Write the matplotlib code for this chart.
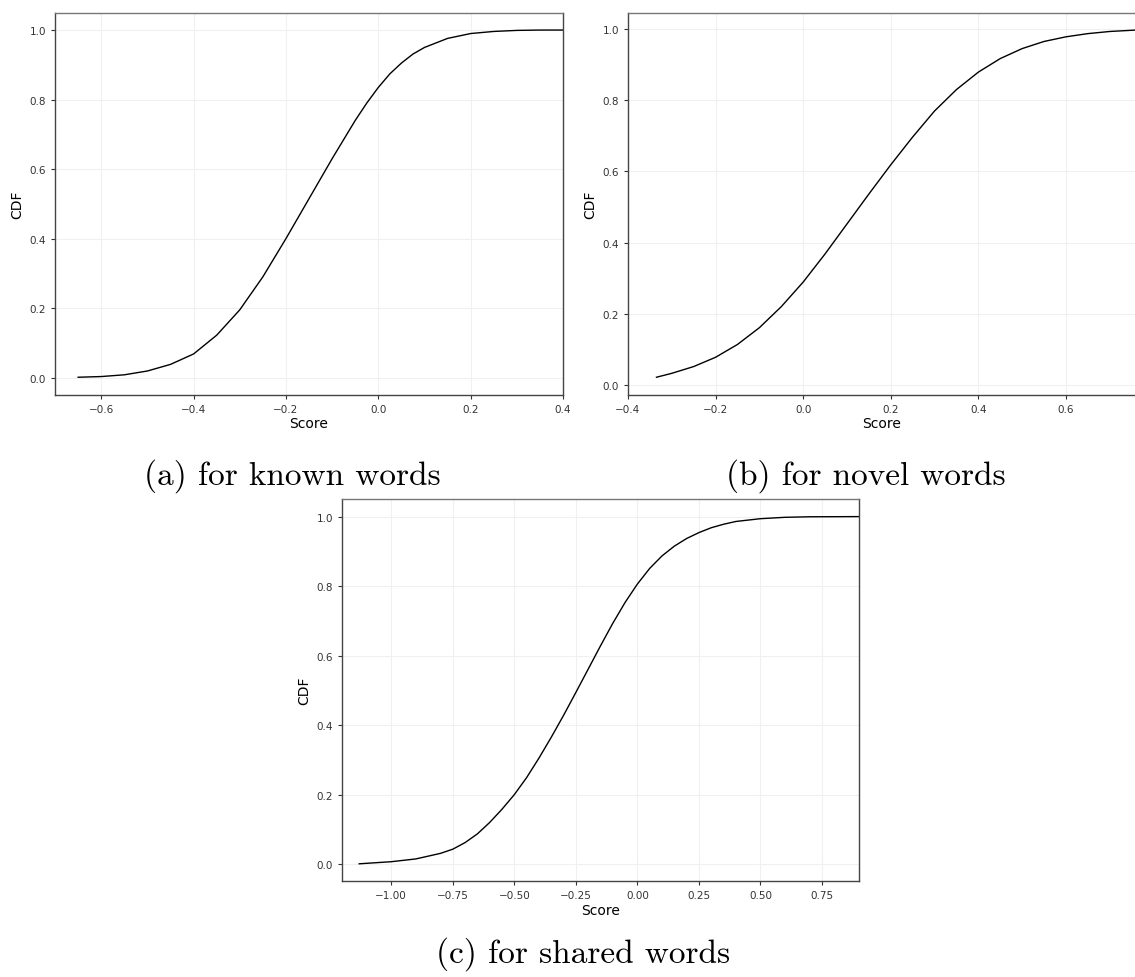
import matplotlib
matplotlib.use("Agg")
import matplotlib.pyplot as plt

# values
known_x = [-0.65, -0.6, -0.55, -0.5, -0.45, -0.4, -0.35, -0.3, -0.25, -0.2, -0.15,
           -0.1, -0.05, -0.025, 0.0, 0.025, 0.05, 0.075, 0.1, 0.15, 0.2, 0.25, 0.3, 0.35, 0.4]
known_cdf = [0.001, 0.003, 0.008, 0.019, 0.038, 0.068, 0.122, 0.195, 0.29, 0.40, 0.515,
             0.63, 0.74, 0.79, 0.835, 0.874, 0.905, 0.931, 0.95, 0.976, 0.99, 0.996, 0.999, 1.0, 1.0]

novel_x = [-0.335, -0.3, -0.25, -0.2, -0.15, -0.1, -0.05, 0.0, 0.05, 0.1, 0.15, 0.2,
           0.25, 0.3, 0.35, 0.4, 0.45, 0.5, 0.55, 0.6, 0.65, 0.7, 0.76]
novel_cdf = [0.022, 0.033, 0.052, 0.078, 0.114, 0.161, 0.22, 0.289, 0.368, 0.452, 0.536,
             0.618, 0.696, 0.769, 0.829, 0.878, 0.916, 0.944, 0.964, 0.977, 0.986, 0.992, 0.996]

shared_x = [-1.13, -1.0, -0.9, -0.8, -0.75, -0.7, -0.65, -0.6, -0.55, -0.5, -0.45,
            -0.4, -0.35, -0.3, -0.25, -0.2, -0.15, -0.1, -0.05, 0.0, 0.05, 0.1,
            0.15, 0.2, 0.25, 0.3, 0.35, 0.4, 0.5, 0.6, 0.7, 0.9]
shared_cdf = [0.001, 0.007, 0.015, 0.031, 0.043, 0.062, 0.087, 0.12, 0.158, 0.2, 0.249,
              0.305, 0.365, 0.428, 0.494, 0.561, 0.628, 0.693, 0.753, 0.806, 0.851, 0.887,
              0.915, 0.937, 0.954, 0.968, 0.978, 0.986, 0.994, 0.998, 0.9995, 1.0]

captions = ["(a) for known words", "(b) for novel words", "(c) for shared words"]

fig = plt.figure(figsize=(11.35, 9.78), dpi=100)

# axes boxes in figure fractions
boxes = [[0.0485, 0.5955, 0.4476, 0.3905],
         [0.5533, 0.5955, 0.4476, 0.3905],
         [0.3013, 0.098, 0.4555, 0.3905]]
xlims = [(-0.7, 0.4), (-0.4, 0.76), (-1.2, 0.9)]
xticks = [[-0.6, -0.4, -0.2, 0.0, 0.2, 0.4],
          [-0.4, -0.2, 0.0, 0.2, 0.4, 0.6],
          [-1.0, -0.75, -0.5, -0.25, 0.0, 0.25, 0.5, 0.75]]
data = [(known_x, known_cdf), (novel_x, novel_cdf), (shared_x, shared_cdf)]

for box, (x, y), xl, xt in zip(boxes, data, xlims, xticks):
    ax = fig.add_axes(box)
    ax.plot(x, y, color="black", lw=1.0)
    ax.set_xlim(*xl)
    ax.set_xticks(xt)
    ax.set_yticks([0.0, 0.2, 0.4, 0.6, 0.8, 1.0])
    if xl[0] == -1.2:
        ax.set_xticklabels([f"{v:.2f}".replace("-", "\u2212") for v in xt])
    ax.grid(True, color="#f0f0f0", lw=0.8)
    ax.set_axisbelow(True)
    ax.tick_params(labelsize=7.5, colors="#333333", length=3, width=0.8)
    for s in ax.spines.values():
        s.set_color("#444444")
        s.set_linewidth(1.0)
    ax.spines["top"].set_color("#777777")
    ax.set_xlabel("Score", fontsize=10, labelpad=2)
    ax.set_ylabel("CDF", fontsize=10)

# sub-figure captions
fig.text(0.2573, 0.5041, captions[0], ha="center", va="baseline", fontsize=24, family="cmr10")
fig.text(0.763, 0.5041, captions[1], ha="center", va="baseline", fontsize=24, family="cmr10")
fig.text(0.514, 0.0155, captions[2], ha="center", va="baseline", fontsize=24, family="cmr10")

fig.savefig("out.png", dpi=100)
